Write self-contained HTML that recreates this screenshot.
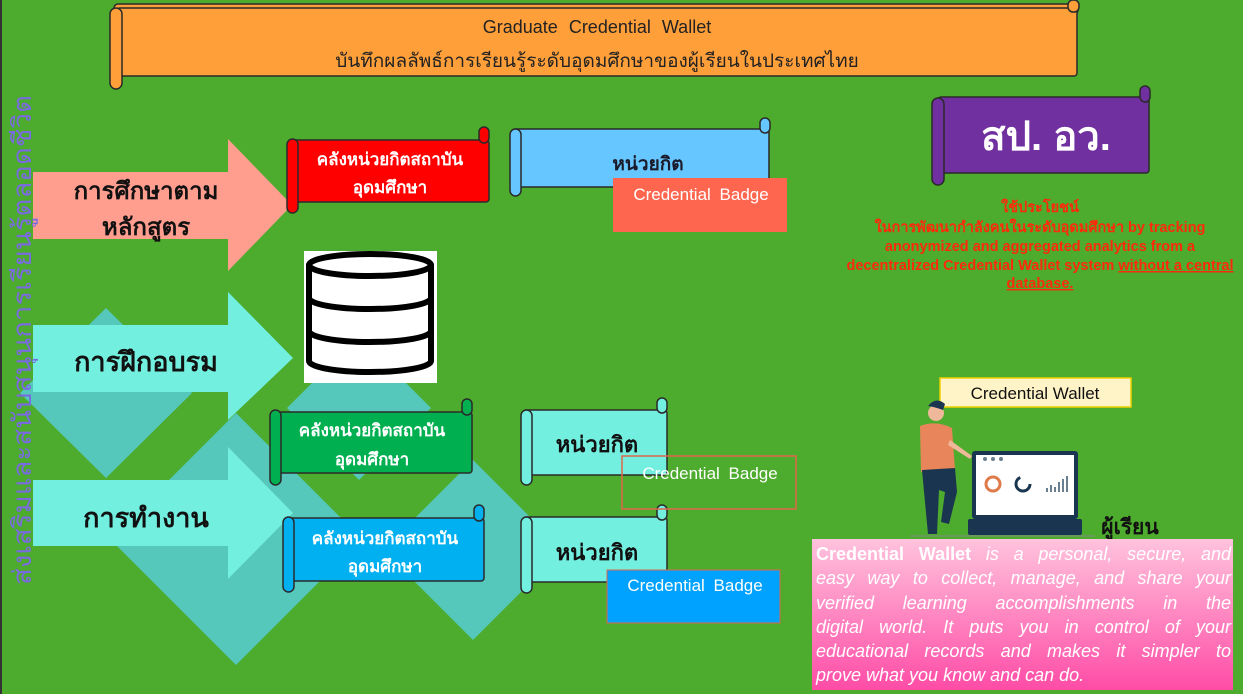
<!DOCTYPE html>
<html><head><meta charset="utf-8">
<style>
html,body{margin:0;padding:0;}
body{width:1243px;height:694px;overflow:hidden;background:#4dab2d;position:relative;font-family:"Liberation Sans","Noto Sans CJK SC",sans-serif;}
svg{position:absolute;left:0;top:0;}
.pink{position:absolute;left:812px;top:539px;width:415px;height:148px;padding:3px 2px 0 4px;background:linear-gradient(#ffc3dd,#ff4ca6);color:#fff;font-style:italic;font-size:18px;line-height:24.3px;}
.pink div{text-align:justify;text-align-last:justify;white-space:nowrap;}
.pink div.l{text-align-last:left;}
</style></head><body>
<svg width="1243" height="694" viewBox="0 0 1243 694" font-family="Liberation Sans, Noto Sans CJK SC, sans-serif">
<rect x="0" y="0" width="2" height="694" fill="#333"/>
<g fill="#55c8bb">
<polygon points="106,308 192,393 106,478 20,393"/>
<polygon points="236,413 362,539 236,665 110,539"/>
<polygon points="359,336 431,408 359,480 287,408"/>
<polygon points="473,460 563,550 473,640 383,550"/>
</g>
<polygon points="33,172 228,172 228,139 292,205 228,271 228,239 33,239" fill="#ff9e8f"/>
<polygon points="33,325 228,325 228,292 293,358 228,420 228,392 33,392" fill="#73efe0"/>
<polygon points="33,480 228,480 228,447 293,513 228,579 228,546 33,546" fill="#73efe0"/>
<g font-weight="bold" fill="#111" text-anchor="middle">
<text x="146" y="199" font-size="24">การศึกษาตาม</text>
<text x="146" y="235" font-size="24">หลักสูตร</text>
<text x="146" y="371" font-size="27">การฝึกอบรม</text>
<text x="146" y="527" font-size="27">การทำงาน</text>
</g>
<text transform="translate(31,585) rotate(-90)" font-size="26" fill="#7a6ae0" textLength="490" lengthAdjust="spacingAndGlyphs">ส่งเสริมและสนับสนุนการเรียนรู้ตลอดชีวิต</text>

<g stroke="#2a2a2a" stroke-width="1.5" fill="#ff9f3a">
<rect x="114" y="4" width="964" height="10" rx="4"/>
<rect x="117" y="8" width="960" height="68" rx="3"/>
<rect x="1068" y="0" width="11" height="12" rx="5"/>
<rect x="110" y="8" width="12" height="81" rx="6"/>
</g>
<text x="597" y="33" font-size="18" fill="#222" text-anchor="middle" word-spacing="6">Graduate Credential Wallet</text>
<text x="597" y="67" font-size="19" fill="#222" text-anchor="middle">บันทึกผลลัพธ์การเรียนรู้ระดับอุดมศึกษาของผู้เรียนในประเทศไทย</text>

<g stroke="#2a2a2a" stroke-width="1.5" fill="#7030a0">
<rect x="938" y="97" width="211" height="76" rx="3"/>
<rect x="1140" y="86" width="10" height="16" rx="5"/>
<rect x="932" y="98" width="12" height="87" rx="6"/>
</g>
<text x="1046" y="150" font-size="40" font-weight="bold" fill="#fff" text-anchor="middle">สป. อว.</text>

<g font-size="14.5" font-weight="bold" fill="#ff2a0a" text-anchor="middle">
<text x="1040" y="212">ใช้ประโยชน์</text>
<text x="1040" y="232">ในการพัฒนากำลังคนในระดับอุดมศึกษา by tracking</text>
<text x="1040" y="251">anonymized and aggregated analytics from a</text>
<text x="1040" y="270">decentralized Credential Wallet system <tspan text-decoration="underline">without a central</tspan></text>
<text x="1040" y="288" text-decoration="underline">database.</text>
</g>

<g stroke="#2a2a2a" stroke-width="1.5" fill="#ff0000">
<rect x="290" y="140" width="199" height="62" rx="3"/>
<rect x="479" y="127" width="10" height="16" rx="5"/>
<rect x="287" y="139" width="11" height="74" rx="5.5"/>
</g>
<text x="390" y="165" font-size="17" font-weight="bold" fill="#fff" text-anchor="middle">คลังหน่วยกิตสถาบัน</text>
<text x="390" y="193" font-size="17" font-weight="bold" fill="#fff" text-anchor="middle">อุดมศึกษา</text>

<g stroke="#2a2a2a" stroke-width="1.5" fill="#66c6ff">
<rect x="512" y="129" width="257" height="58" rx="3"/>
<rect x="760" y="118" width="10" height="15" rx="5"/>
<rect x="510" y="129" width="11" height="67" rx="5.5"/>
</g>
<text x="648" y="170" font-size="19" font-weight="bold" fill="#1a1a2a" text-anchor="middle">หน่วยกิต</text>
<rect x="613" y="178" width="174" height="54" fill="#ff6650"/>
<text x="701" y="200" font-size="17" fill="#fff" text-anchor="middle" word-spacing="4">Credential Badge</text>

<rect x="304" y="251" width="133" height="132" fill="#fff"/>
<g stroke="#000" stroke-width="6" fill="none">
<ellipse cx="370" cy="265" rx="61" ry="11"/>
<path d="M309 265 V361 A61 11 0 0 0 431 361 V265"/>
<path d="M309 298 A61 11 0 0 0 431 298"/>
<path d="M309 331 A61 11 0 0 0 431 331"/>
</g>

<g stroke="#2a2a2a" stroke-width="1.5" fill="#00b050">
<rect x="273" y="412" width="199" height="61" rx="3"/>
<rect x="462" y="399" width="10" height="16" rx="5"/>
<rect x="270" y="410" width="11" height="75" rx="5.5"/>
</g>
<text x="372" y="436" font-size="17" font-weight="bold" fill="#fff" text-anchor="middle">คลังหน่วยกิตสถาบัน</text>
<text x="372" y="465" font-size="17" font-weight="bold" fill="#fff" text-anchor="middle">อุดมศึกษา</text>

<g stroke="#2a2a2a" stroke-width="1.5" fill="#00b0f0">
<rect x="286" y="518" width="198" height="63" rx="3"/>
<rect x="474" y="505" width="10" height="16" rx="5"/>
<rect x="283" y="517" width="11" height="75" rx="5.5"/>
</g>
<text x="385" y="544" font-size="17" font-weight="bold" fill="#fff" text-anchor="middle">คลังหน่วยกิตสถาบัน</text>
<text x="385" y="572" font-size="17" font-weight="bold" fill="#fff" text-anchor="middle">อุดมศึกษา</text>

<g stroke="#2a2a2a" stroke-width="1.5" fill="#73efe0">
<rect x="523" y="410" width="144" height="65" rx="3"/>
<rect x="657" y="398" width="10" height="15" rx="5"/>
<rect x="521" y="410" width="11" height="75" rx="5.5"/>
<rect x="523" y="517" width="144" height="65" rx="3"/>
<rect x="657" y="505" width="10" height="15" rx="5"/>
<rect x="521" y="517" width="11" height="76" rx="5.5"/>
</g>
<text x="597" y="452" font-size="22" font-weight="bold" fill="#111" text-anchor="middle">หน่วยกิต</text>
<text x="597" y="560" font-size="22" font-weight="bold" fill="#111" text-anchor="middle">หน่วยกิต</text>
<rect x="622" y="456" width="174" height="53" fill="none" stroke="#e0674a" stroke-width="1.5"/>
<text x="710" y="479" font-size="17" fill="#fff" text-anchor="middle" word-spacing="4">Credential Badge</text>
<rect x="607" y="570" width="173" height="53" fill="#00a2ff" stroke="#e0674a" stroke-width="1"/>
<text x="695" y="591" font-size="17" fill="#fff" text-anchor="middle" word-spacing="4">Credential Badge</text>

<rect x="940" y="378" width="191" height="29" fill="#fff3c8" stroke="#f0d000" stroke-width="1.5"/>
<text x="1035" y="399" font-size="17" fill="#111" text-anchor="middle">Credential Wallet</text>

<circle cx="936" cy="413" r="8" fill="#f0b89a"/>
<path d="M928 406 q8 -10 17 -2 l-2 6 q-8 -3 -15 -4z" fill="#1a3550"/>
<path d="M920 426 q16 -6 32 2 l3 42 l-34 2z" fill="#e8855a"/>
<path d="M950 440 l22 16 l-2 3 l-22 -14z" fill="#f0b89a"/>
<path d="M922 470 l33 -2 l2 24 l-8 32 l-8 -2 l4 -30 l-6 -2 l-2 44 l-9 0 z" fill="#1a3550"/>
<rect x="972" y="451" width="106" height="68" rx="3" fill="#1a3550"/>
<rect x="976" y="455" width="98" height="60" fill="#fff"/>
<circle cx="985" cy="459" r="2" fill="#6a7f90"/><circle cx="993" cy="459" r="2" fill="#6a7f90"/><circle cx="1001" cy="459" r="2" fill="#6a7f90"/>
<circle cx="993" cy="484" r="7" fill="none" stroke="#e07a4a" stroke-width="3"/>
<circle cx="1023" cy="484" r="7" fill="none" stroke="#1a3550" stroke-width="3" stroke-dasharray="30 14"/>
<path d="M1047 492 v-4 M1051 492 v-7 M1055 492 v-5 M1059 492 v-10 M1063 492 v-13 M1067 492 v-16" stroke="#6a7f90" stroke-width="2"/>
<rect x="968" y="519" width="114" height="16" rx="2" fill="#1a3550"/>
<line x1="910" y1="536" x2="1095" y2="536" stroke="#888" stroke-width="1"/>
<text x="1130" y="534" font-size="21" font-weight="bold" fill="#111" text-anchor="middle">ผู้เรียน</text>
</svg>
<div class="pink">
<div><b style="font-style:normal">Credential Wallet</b> is a personal, secure, and</div>
<div>easy way to collect, manage, and share your</div>
<div>verified learning accomplishments in the</div>
<div>digital world. It puts you in control of your</div>
<div>educational records and makes it simpler to</div>
<div class="l">prove what you know and can do.</div>
</div>
</body></html>
